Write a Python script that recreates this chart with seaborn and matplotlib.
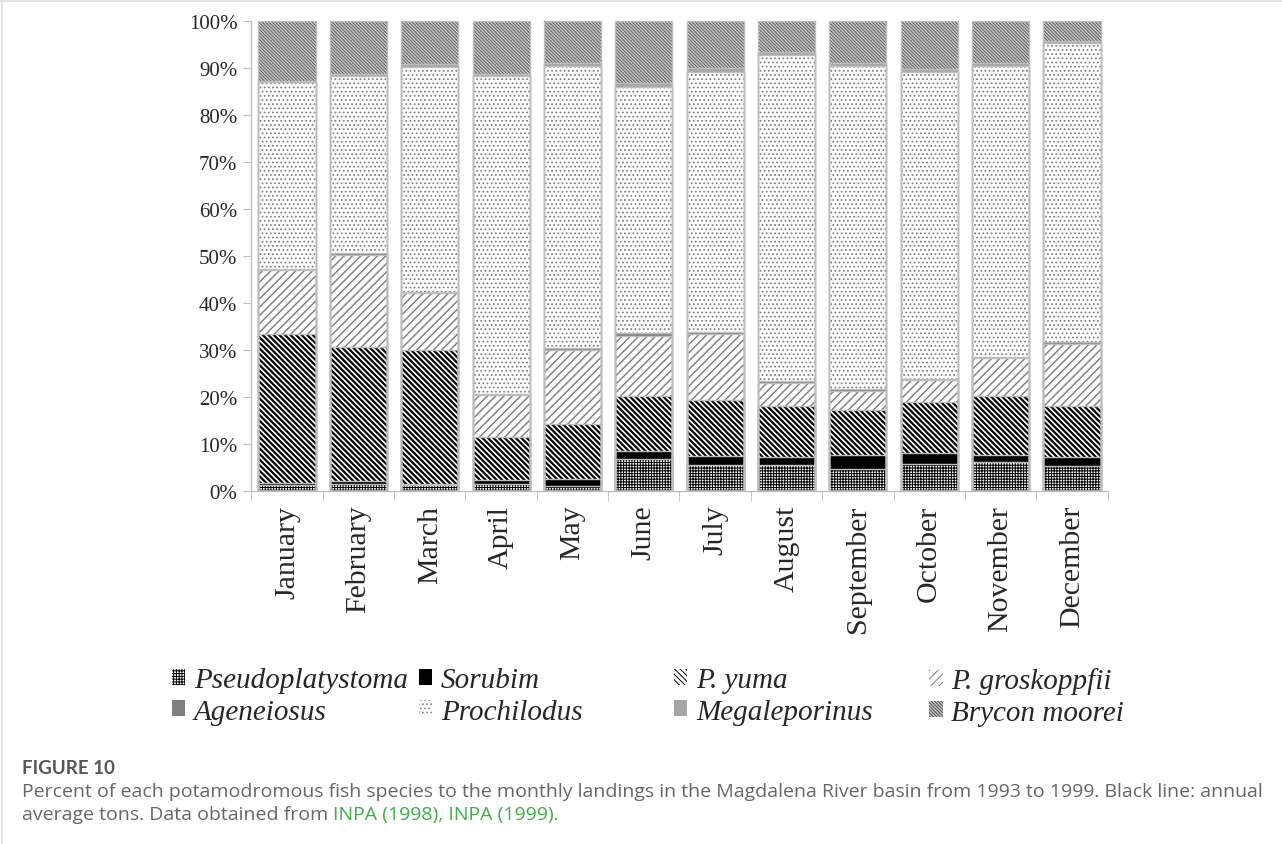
import numpy as np
import pandas as pd
import matplotlib.pyplot as plt
import seaborn as sns
from matplotlib.patches import Patch
from matplotlib.lines import Line2D
from matplotlib.ticker import PercentFormatter

# --------------------------------------------------
# data (percent of monthly landings)
# --------------------------------------------------

months = ["January", "February", "March", "April", "May", "June",
          "July", "August", "September", "October", "November", "December"]
species = ["Pseudoplatystoma", "Sorubim", "P. yuma", "P. groskoppfii",
           "Ageneiosus", "Prochilodus", "Megaleporinus", "Brycon moorei"]

pseudoplatystoma = [1.3, 1.5, 1.3, 1.5, 1.1, 6.7, 5.5, 5.5, 4.7, 5.8, 6.1, 5.2]
sorubim = [0.4, 0.6, 0.2, 0.9, 1.4, 1.8, 1.8, 1.6, 2.9, 2.2, 1.6, 1.9]
p_yuma = [31.6, 28.5, 28.5, 9.1, 11.7, 11.7, 12.0, 11.0, 9.7, 10.8, 12.4, 11.0]
p_groskoppfii = [13.7, 19.6, 12.0, 8.8, 15.8, 12.8, 14.1, 4.9, 4.0, 4.7, 8.2, 13.2]
ageneiosus = [0.2, 0.4, 0.3, 0.2, 0.3, 0.6, 0.4, 0.4, 0.3, 0.3, 0.2, 0.3]
prochilodus = [39.9, 37.6, 48.0, 67.8, 60.2, 52.3, 55.3, 69.4, 68.9, 65.3, 62.0, 63.7]
megaleporinus = [0.2, 0.6, 0.5, 0.5, 0.5, 0.9, 0.8, 0.5, 0.5, 0.6, 0.5, 0.4]
brycon_moorei = [12.7, 11.2, 9.2, 11.2, 9.0, 13.2, 10.1, 6.7, 9.0, 10.3, 9.0, 4.3]

df = pd.DataFrame({
    "month": months,
    "Pseudoplatystoma": pseudoplatystoma,
    "Sorubim": sorubim,
    "P. yuma": p_yuma,
    "P. groskoppfii": p_groskoppfii,
    "Ageneiosus": ageneiosus,
    "Prochilodus": prochilodus,
    "Megaleporinus": megaleporinus,
    "Brycon moorei": brycon_moorei,
})

# 100% stacked -> cumulative tops
pct = df[species].div(df[species].sum(axis=1), axis=0) * 100
cum = pct.cumsum(axis=1)
for sp in species:
    df["top_" + sp] = cum[sp]

# fill / hatch / hatch colour / hatch width for each species
styles = {
    "Pseudoplatystoma": ("white", "+" * 6, "black", 0.75),
    "Sorubim": ("black", None, "black", 1.0),
    "P. yuma": ("white", "\\" * 6, "black", 1.6),
    "P. groskoppfii": ("white", "/" * 4, "#7a7a7a", 1.0),
    "Ageneiosus": ("#808080", None, "#808080", 1.0),
    "Prochilodus": ("white", "....", "#808080", 0.8),
    "Megaleporinus": ("#a6a6a6", None, "#a6a6a6", 1.0),
    "Brycon moorei": ("#c8c8c8", "\\" * 10, "#4d4d4d", 0.6),
}

# --------------------------------------------------
# plotting
# --------------------------------------------------

sns.set_style("white")
plt.rcParams["font.family"] = ["Liberation Serif", "DejaVu Serif"]

fig = plt.figure(figsize=(12.82, 8.45), dpi=100)
ax = fig.add_axes([0.196, 0.418, 0.668, 0.556])

# draw cumulative bars from the top species down so lower ones sit in front
for sp in reversed(species):
    face, hatch, hcol, hlw = styles[sp]
    with plt.rc_context({"hatch.linewidth": hlw}):
        n0 = len(ax.patches)
        sns.barplot(data=df, x="month", y="top_" + sp, order=months, color=face,
                    saturation=1, width=0.8, errorbar=None, hatch=hatch,
                    edgecolor=hcol, linewidth=0, ax=ax)
        for p in ax.patches[n0:]:
            if hasattr(p, "set_hatch_linewidth"):
                p.set_hatch_linewidth(hlw)

# light grey outlines between the segments
for sp in reversed(species):
    sns.barplot(data=df, x="month", y="top_" + sp, order=months, fill=False,
                color="#bdbdbd", width=0.8, errorbar=None, linewidth=1.0, ax=ax)

ax.set_xlim(-0.5, len(months) - 0.5)
ax.set_ylim(0, 100)
ax.set_yticks(np.arange(0, 101, 10))
ax.yaxis.set_major_formatter(PercentFormatter(decimals=0))
ax.set_xlabel("")
ax.set_ylabel("")

for side in ["top", "right"]:
    ax.spines[side].set_visible(False)
for side in ["left", "bottom"]:
    ax.spines[side].set_color("#bfbfbf")
    ax.spines[side].set_linewidth(1.0)

ax.tick_params(axis="y", which="major", left=True, length=6, color="#bfbfbf",
               labelsize=15, pad=4)
ax.tick_params(axis="x", which="major", length=0, labelsize=21.5, pad=10,
               labelrotation=90)
ax.set_xticks(np.arange(-0.5, len(months), 1), minor=True)
ax.tick_params(axis="x", which="minor", bottom=True, length=7, color="#bfbfbf")

# legend: four equal-width columns, two rows
handles = {}
for sp in species:
    face, hatch, hcol, hlw = styles[sp]
    handles[sp] = Patch(facecolor=face, hatch=hatch, edgecolor=hcol, linewidth=0)
col_x = [0.134, 0.327, 0.526, 0.725]
with plt.rc_context({"hatch.linewidth": 0.7}):
    for i, x0 in enumerate(col_x):
        pair = [species[i], species[i + 4]]
        leg = fig.legend([handles[s] for s in pair], pair, loc="upper left",
                         bbox_to_anchor=(x0, 0.209), frameon=False, ncol=1,
                         prop={"family": "Liberation Serif", "style": "italic", "size": 21},
                         handlelength=0.45, handleheight=0.45, handletextpad=0.3,
                         labelspacing=0.18, borderpad=0.0, borderaxespad=0.0)

# caption
grey = "#666666"
fig.text(22 / 1282, 1 - 769 / 845, "FIGURE 10", family="Lato", weight="bold",
         size=13.5, color="#555555", va="center", ha="left")
fig.text(22 / 1282, 1 - 792 / 845,
         "Percent of each potamodromous fish species to the monthly landings in the "
         "Magdalena River basin from 1993 to 1999. Black line: annual",
         family="Open Sans", size=14.0, color=grey, va="center", ha="left")
t1 = fig.text(22 / 1282, 1 - 815 / 845, "average tons. Data obtained from ",
              family="Open Sans", size=14.0, color=grey, va="center", ha="left")
ax.annotate("INPA (1998), INPA (1999).", xy=(1, 0.5), xycoords=t1,
            family="Open Sans", size=14.0, color="#3fae49", va="center", ha="left",
            annotation_clip=False)

# frame lines of the figure panel
fig.add_artist(Line2D([0, 1], [1 - 2 / 845, 1 - 2 / 845], transform=fig.transFigure,
                      color="#dddddd", linewidth=1.2))
fig.add_artist(Line2D([2 / 1282, 2 / 1282], [0, 1], transform=fig.transFigure,
                      color="#dddddd", linewidth=1.2))

plt.savefig("out.png", dpi=100)
